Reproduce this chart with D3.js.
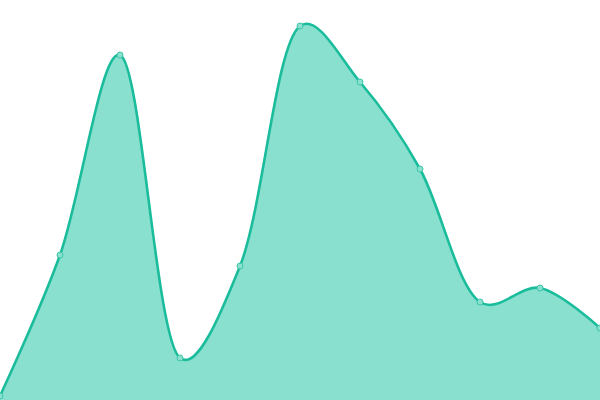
<!DOCTYPE html>
<html>
<head>
<meta charset="utf-8">
<script src="https://cdn.jsdelivr.net/npm/d3@7"></script>
<style>
	html, body { margin: 0; padding: 0; background: #fff; }
	svg { display: block; }
</style>
</head>
<body>
<svg></svg>
<script>
// chart data
var labels = [0, 1, 2, 3, 4, 5, 6, 7, 8, 9, 10];
var values = [4, 145, 345, 42, 134, 374, 318, 231, 98, 112, 72];

var W = 600, H = 400;

var svg = d3.select('svg')
	.attr('width', W)
	.attr('height', H);

var x = d3.scaleLinear()
	.domain([0, labels.length - 1])
	.range([0, W]);

var y = d3.scaleLinear()
	.domain([0, 400])
	.range([H, 0]);

var curve = d3.curveCatmullRom.alpha(0.3);

var area = d3.area()
	.x(function(d, i) { return x(labels[i]); })
	.y0(H)
	.y1(function(d) { return y(d); })
	.curve(curve);

var line = d3.line()
	.x(function(d, i) { return x(labels[i]); })
	.y(function(d) { return y(d); })
	.curve(curve);

svg.append('path')
	.datum(values)
	.attr('d', area)
	.style('fill', '#8ae0cf');

svg.append('path')
	.datum(values)
	.attr('d', line)
	.style('fill', 'none')
	.style('stroke', '#1abc9c')
	.style('stroke-width', 2.6);

// small point markers
svg.selectAll('circle.pt')
	.data(values)
	.enter()
	.append('circle')
		.attr('class', 'pt')
		.attr('cx', function(d, i) { return x(labels[i]); })
		.attr('cy', function(d) { return y(d); })
		.attr('r', 3)
		.style('fill', '#8ae0cf')
		.style('stroke', '#3cc6a9')
		.style('stroke-width', 1);
</script>
</body>
</html>
